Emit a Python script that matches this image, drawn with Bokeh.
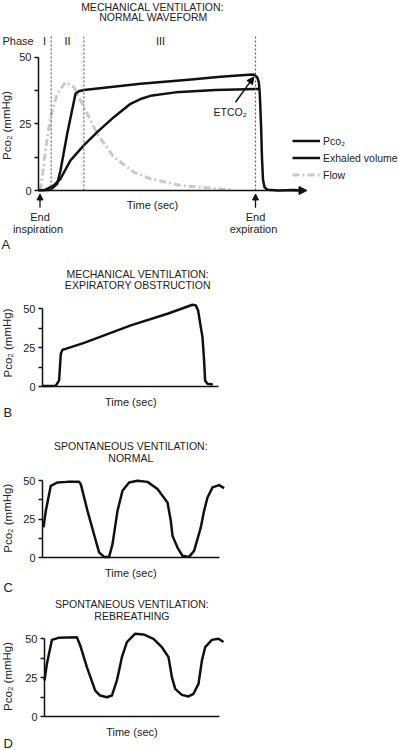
from bokeh.plotting import figure
from bokeh.models import Range1d, FixedTicker, Label, Arrow, NormalHead, Legend, LegendItem
from bokeh.layouts import column
from bokeh.embed import file_html
from bokeh.resources import INLINE

FONT = "Liberation Sans"
INK = "#111111"
TXT = "#222222"
FLOW_GRAY = "#c9c9c9"

# ---------------- data ----------------
y_ticks = [0, 12.5, 25, 37.5, 50]
y_tick_text = {12.5: "", 37.5: ""}
y_label = "Pᴄᴏ₂ (mmHg)"

# Panel A: mechanical ventilation, normal waveform
a_pco2_t = [0, 12, 18.7, 22, 28.7, 37, 40.3, 45.3, 102, 150, 182, 210, 215.3, 218.7, 220.3,
            221.3, 222.5, 223.5, 224.5, 226, 229, 240, 255, 265]
a_pco2 = [0, 0.3, 2.5, 7.5, 21.3, 36.3, 37.2, 37.7, 40.0, 41.5, 42.7, 43.4, 43.5, 42.5, 40.6,
          36.3, 25, 12, 4, 1.2, 0.3, 0, 0.2, 0]
a_vol_t = [5.3, 15.3, 22, 32, 45.3, 58.7, 75.3, 92, 102, 112, 137, 177, 221]
a_vol = [0, 1.9, 4.4, 11.3, 16.9, 21.9, 27.5, 32.5, 34.3, 35.5, 36.8, 37.7, 38.1]
a_flow_t = [2, 7, 12, 18.7, 27, 35.3, 45.3, 58.7, 75.3, 95.3, 112, 142, 182, 192]
a_flow = [0, 15, 27.5, 36.3, 40.6, 38.8, 31.3, 21.3, 12.5, 6.9, 4.4, 1.9, 0.6, 0.3]
a_phase_bounds = [12.7, 45.3, 217.0]
a_phase_names = ["I", "II", "III"]
a_phase_name_t = [6, 29, 122]
a_end_t = [1.5, 217.0]
a_end_words = [("End", "inspiration"), ("End", "expiration")]

# Panel B: expiratory obstruction
b_t = [0, 13.3, 16.6, 18.3, 20, 41.6, 88.3, 125, 150, 153.3, 155.6, 158.3, 160, 161.6, 162.6, 165, 170.3]
b_pco2 = [0.3, 0.5, 3.9, 21, 23.6, 28.1, 39.3, 46.8, 52.6, 52.2, 48.9, 38.2, 31.7, 16.7, 3.9, 1.7, 1.3]

# Panel C: spontaneous ventilation, normal
c_t = [1.0, 3.3, 8.3, 15, 25, 36.6, 38.3, 45, 53.3, 56.6, 61.6, 66.6, 70, 75, 80, 86.6, 95, 105,
       115, 125, 128.3, 130, 135, 140, 146.6, 151.6, 158.3, 161.6, 165, 170, 176.6, 181.6]
c_pco2 = [19.6, 30.4, 46.7, 48.9, 49.3, 49.3, 47.8, 30.4, 10.9, 3.3, 0.4, 0.4, 8.7, 30.4, 43.5,
          48.9, 50, 49.3, 44.6, 35.9, 24, 14.1, 6.5, 1.1, 0.4, 4.3, 19.6, 30.4, 39.1, 45.7, 47.2, 45.2]

# Panel D: spontaneous ventilation, rebreathing
d_t = [0, 2.4, 7.4, 14, 32.4, 35.7, 42.4, 50.7, 55.7, 62.4, 67.4, 72.4, 77.4, 82.4, 90.7, 99, 109,
       117.4, 124, 127.4, 130.7, 137.4, 144, 149, 154, 157.4, 160.7, 167.4, 174, 179]
d_pco2 = [23.2, 33.9, 49.3, 50.6, 51, 45.7, 31.8, 16.7, 13.5, 12.4, 13.5, 23.2, 38.2, 47.9, 53.3,
          52.8, 50, 44.6, 38.2, 25.3, 17.8, 13.9, 12.9, 14.6, 21, 36, 44.6, 49.3, 50, 47.9]


def lab(p, x, y, text, size="10.5px", align="center", angle=0.0, color=TXT):
    p.add_layout(Label(x=x, y=y, text=text, text_font=FONT, text_font_size=size,
                       text_color=color, text_align=align, text_baseline="middle", angle=angle))


def make_panel(h, left, axis_px, ppu, axis_end):
    p = figure(width=399, height=h,
               x_range=Range1d(-left, 399 - left),
               y_range=Range1d(-(h - axis_px) / ppu, axis_px / ppu),
               min_border_left=0, min_border_right=0, min_border_top=0, min_border_bottom=0,
               output_backend="svg", toolbar_location=None)
    p.outline_line_color = None
    p.grid.visible = False
    ya = p.yaxis[0]
    ya.fixed_location = 0
    ya.ticker = FixedTicker(ticks=y_ticks)
    ya.major_label_overrides = y_tick_text
    ya.bounds = (0, 50)
    ya.axis_line_width = 1.5
    ya.axis_line_color = INK
    ya.major_tick_line_width = 1.5
    ya.major_tick_line_color = INK
    ya.major_tick_out = 4
    ya.major_tick_in = 0
    ya.minor_tick_line_color = None
    ya.major_label_standoff = 3
    ya.major_label_text_font = FONT
    ya.major_label_text_font_size = "11px"
    ya.major_label_text_color = TXT
    xa = p.xaxis[0]
    xa.fixed_location = 0
    xa.ticker = FixedTicker(ticks=[])
    xa.bounds = (0, axis_end)
    xa.axis_line_width = 1.5
    xa.axis_line_color = INK
    xa.major_tick_line_color = None
    xa.minor_tick_line_color = None
    xa.major_label_text_font_size = "0px"
    return p


# ---------------- Panel A ----------------
ppu_a = 133.33 / 50
pa = make_panel(254, 38, 190, ppu_a, 262)
r_flow = pa.line(a_flow_t, a_flow, line_color=FLOW_GRAY, line_width=3, line_dash="7 3 2 3")
r_vol = pa.line(a_vol_t, a_vol, line_color=INK, line_width=2.5, line_join="round")
r_pco2 = pa.line(a_pco2_t, a_pco2, line_color=INK, line_width=2.5, line_join="round")
pa.segment(x0=a_phase_bounds, y0=0, x1=a_phase_bounds, y1=58, line_color="#666666",
           line_width=1.2, line_dash="2 2")
pa.add_layout(Arrow(end=NormalHead(size=8, fill_color=INK, line_color=INK), x_start=255, y_start=0,
                    x_end=268.5, y_end=0, line_width=1.5, line_color=INK))
lab(pa, 114, 69, "MECHANICAL VENTILATION:")
lab(pa, 115, 64.9, "NORMAL WAVEFORM")
lab(pa, -36, 56, "Phase", size="11px", align="left")
for t, n in zip(a_phase_name_t, a_phase_names):
    lab(pa, t, 56, n, size="11px")
lab(pa, 175, 29.3, "ETCO₂", size="10.5px", align="left")
pa.add_layout(Arrow(end=NormalHead(size=7, fill_color=INK, line_color=INK), x_start=197, y_start=33.1,
                    x_end=215.3, y_end=42.6, line_width=1.5, line_color=INK))
for t, (w1, w2) in zip(a_end_t, a_end_words):
    pa.add_layout(Arrow(end=NormalHead(size=6, fill_color=INK, line_color=INK), x_start=t, y_start=-6.5,
                        x_end=t, y_end=-1.3, line_width=1.3, line_color=INK))
    lab(pa, t, -10, w1, size="11px")
    lab(pa, t - 2, -14.4, w2, size="11px")
lab(pa, 114, -5.3, "Time (sec)", size="11px")
lab(pa, -32, 24.4, y_label, size="11.5px", angle=1.5708)
lab(pa, -37, -20.3, "A", size="13px", align="left")
legend = Legend(items=[LegendItem(label="Pᴄᴏ₂", renderers=[r_pco2]),
                       LegendItem(label="Exhaled volume", renderers=[r_vol]),
                       LegendItem(label="Flow", renderers=[r_flow])],
                location=(292, 72), border_line_color=None, background_fill_alpha=0,
                padding=0, margin=0, glyph_width=28, glyph_height=15, label_height=15,
                spacing=2, label_standoff=3, label_text_font=FONT, label_text_font_size="10.5px",
                label_text_color=TXT)
pa.add_layout(legend)

# ---------------- Panel B ----------------
ppu_b = 77.7 / 50
pb = make_panel(170, 42, 132, ppu_b, 175.6)
pb.line(b_t, b_pco2, line_color=INK, line_width=2.5, line_join="round")
lab(pb, 95.3, 72.1, "MECHANICAL VENTILATION:")
lab(pb, 95.3, 65.0, "EXPIRATORY OBSTRUCTION")
lab(pb, 88.3, -10.1, "Time (sec)", size="11px")
lab(pb, -35, 28, y_label, size="11.5px", angle=1.5708)
lab(pb, -39, -16.5, "B", size="13px", align="left")

# ---------------- Panel C ----------------
ppu_c = 76.7 / 50
pc = make_panel(172, 42, 133, ppu_c, 176.6)
pc.line(c_t, c_pco2, line_color=INK, line_width=2.5, line_join="round")
lab(pc, 88.3, 72.9, "SPONTANEOUS VENTILATION:")
lab(pc, 88.3, 64.8, "NORMAL")
lab(pc, 88.3, -9.8, "Time (sec)", size="11px")
lab(pc, -35, 25.6, y_label, size="11.5px", angle=1.5708)
lab(pc, -39, -19.6, "C", size="13px", align="left")

# ---------------- Panel D ----------------
ppu_d = 77.7 / 50
pd_ = make_panel(154, 44, 120, ppu_d, 175)
pd_.line(d_t, d_pco2, line_color=INK, line_width=2.5, line_join="round")
lab(pd_, 87.4, 72.1, "SPONTANEOUS VENTILATION:")
lab(pd_, 87.4, 64.4, "REBREATHING")
lab(pd_, 87.4, -9.7, "Time (sec)", size="11px")
lab(pd_, -37, 25.8, y_label, size="11.5px", angle=1.5708)
lab(pd_, -41, -17.4, "D", size="13px", align="left")

layout = column(pa, pb, pc, pd_, spacing=0)
open("out.html", "w").write(file_html(layout, INLINE))
